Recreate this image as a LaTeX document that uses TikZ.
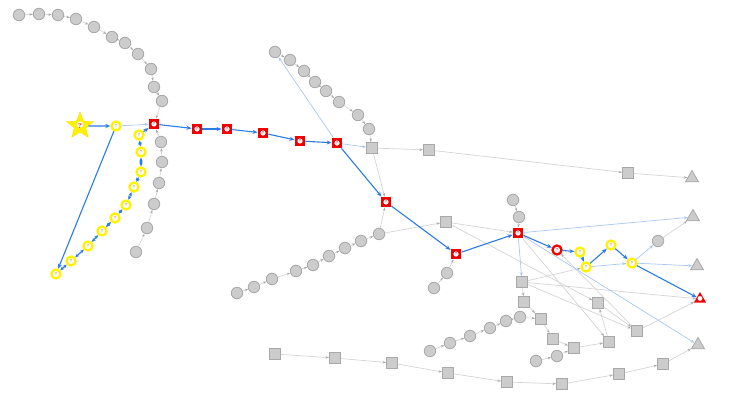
\documentclass[tikz,border=0pt]{standalone}
\usetikzlibrary{arrows.meta,shapes.geometric}
\definecolor{bl}{HTML}{2A7BE4}
\definecolor{lb}{HTML}{A8C8F2}
\definecolor{ge}{HTML}{D4D4D4}
\definecolor{nf}{HTML}{CCCCCC}
\definecolor{nd}{HTML}{A8A8A8}
\definecolor{yl}{HTML}{FFF200}
\definecolor{rd}{HTML}{F20000}
\newcommand\qfont{\fontsize{4}{4}\selectfont\bfseries}
\tikzset{
  gc/.style={circle,fill=nf,draw=nd,line width=0.8pt,minimum size=11.5pt,inner sep=0pt},
  gs/.style={rectangle,fill=nf,draw=nd,line width=0.8pt,minimum size=11pt,inner sep=0pt},
  gt/.style={regular polygon,regular polygon sides=3,fill=nf,draw=nd,line width=0.8pt,minimum size=15pt,inner sep=0pt},
  rs/.style={rectangle,fill=rd,minimum size=10.5pt,inner sep=0pt,text=rd,font=\qfont,
    path picture={\fill[white] (path picture bounding box.center) circle (2.6pt);}},
  yc/.style={circle,draw=yl,line width=2.3pt,fill=white,minimum size=9pt,inner sep=0pt,text=red!70,font=\qfont},
  rc/.style={circle,draw=rd,line width=2.3pt,fill=white,minimum size=9pt,inner sep=0pt,text=rd,font=\qfont},
  st/.style={star,star points=5,star point ratio=2.3,fill=yl,draw=yl!85!orange,line width=0.4pt,minimum size=28pt,inner sep=0pt,text=red,font=\bfseries\fontsize{7}{7}\selectfont,
    path picture={\fill[white] (path picture bounding box.center) circle (3.2pt);}},
  rt/.style={regular polygon,regular polygon sides=3,fill=rd,minimum size=14pt,inner sep=0pt,text=rd,font=\qfont,
    path picture={\fill[white] ([yshift=-1.2pt]path picture bounding box.center) circle (2.4pt);}},
  be/.style={draw=bl,line width=1.1pt,-{Stealth[length=5pt,width=4pt]}},
  bbe/.style={draw=bl,line width=1.1pt,{Stealth[length=4pt,width=3.5pt]}-{Stealth[length=4pt,width=3.5pt]}},
  lbe/.style={draw=lb,line width=0.7pt,-{Stealth[length=4pt,width=3pt]}},
  gre/.style={draw=ge,line width=0.7pt,-{Stealth[length=3.5pt,width=2.5pt,color=nd]}}
}
\begin{document}
\begin{tikzpicture}[x=1pt,y=-1pt]
\useasboundingbox (0,0) rectangle (730,409);
% top arc
\node[gc] (t1) at (19,15) {};
\node[gc] (t2) at (39,14) {};
\node[gc] (t3) at (58,15) {};
\node[gc] (t4) at (76,19) {};
\node[gc] (t5) at (94,27) {};
\node[gc] (t6) at (112,37) {};
\node[gc] (t7) at (125,43) {};
\node[gc] (t8) at (138,54) {};
\node[gc] (t9) at (151,69) {};
\node[gc] (t10) at (154,87) {};
\node[gc] (t11) at (162,101) {};
% red path
\node[rs] (r1) at (154,124) {?};
\node[rs] (r2) at (197,129) {?};
\node[rs] (r3) at (227,129) {?};
\node[rs] (r4) at (263,133) {?};
\node[rs] (r5) at (300,141) {?};
\node[rs] (r6) at (337,143) {?};
\node[rs] (r7) at (386,202) {?};
\node[rs] (r8) at (456,254) {?};
\node[rs] (r9) at (518,233) {?};
\node[rc] (rcn) at (557,250) {?};
\node[yc] (ya) at (580,252) {?};
\node[yc] (yb) at (586,267) {?};
\node[yc] (ycc) at (611,245) {?};
\node[yc] (yd) at (632,263) {?};
\node[rt] (rtri) at (700,299) {};
% star and yellow chain
\node[st] (s) at (80,126) {?};
\node[yc] (y0) at (116,126) {?};
\node[yc] (c1) at (56,274) {?};
\node[yc] (c2) at (71,261) {?};
\node[yc] (c3) at (88,246) {?};
\node[yc] (c4) at (102,231) {?};
\node[yc] (c5) at (115,218) {?};
\node[yc] (c6) at (126,205) {?};
\node[yc] (c7) at (134,187) {?};
\node[yc] (c8) at (141,172) {?};
\node[yc] (c9) at (141,152) {?};
\node[yc] (c10) at (139,135) {?};
% grey chain below r1
\node[gc] (b1) at (161,142) {};
\node[gc] (b2) at (162,162) {};
\node[gc] (b3) at (159,183) {};
\node[gc] (b4) at (154,204) {};
\node[gc] (b5) at (147,228) {};
\node[gc] (b6) at (136,252) {};
% second chain
\node[gc] (u1) at (275,52) {};
\node[gc] (u2) at (290,60) {};
\node[gc] (u3) at (304,71) {};
\node[gc] (u4) at (315,82) {};
\node[gc] (u5) at (326,91) {};
\node[gc] (u6) at (339,102) {};
\node[gc] (u7) at (358,115) {};
\node[gc] (u8) at (369,129) {};
\node[gs] (q1) at (372,148) {};
\node[gs] (q2) at (429,150) {};
\node[gs] (q3) at (628,173) {};
\node[gt] (tr1) at (692,178) {};
% third chain
\node[gc] (w1) at (237,293) {};
\node[gc] (w2) at (254,287) {};
\node[gc] (w3) at (272,279) {};
\node[gc] (w4) at (296,271) {};
\node[gc] (w5) at (313,265) {};
\node[gc] (w6) at (329,256) {};
\node[gc] (w7) at (345,248) {};
\node[gc] (w8) at (361,241) {};
\node[gc] (w9) at (379,234) {};
\node[gs] (q4) at (446,222) {};
% small chains
\node[gc] (p1) at (447,273) {};
\node[gc] (p2) at (434,288) {};
\node[gc] (o1) at (513,200) {};
\node[gc] (o2) at (519,217) {};
\node[gc] (gk) at (658,241) {};
\node[gt] (tr2) at (693,217) {};
\node[gt] (tr3) at (697,266) {};
\node[gt] (tr4) at (698,345) {};
% lower squares
\node[gs] (q5) at (522,282) {};
\node[gs] (q6) at (524,302) {};
\node[gs] (q7) at (541,319) {};
\node[gs] (q8) at (553,339) {};
\node[gs] (q9) at (574,348) {};
\node[gs] (q10) at (609,342) {};
\node[gs] (q11) at (598,303) {};
\node[gs] (q12) at (637,331) {};
\node[gc] (l1) at (430,351) {};
\node[gc] (l2) at (450,343) {};
\node[gc] (l3) at (470,336) {};
\node[gc] (l4) at (490,328) {};
\node[gc] (l5) at (506,321) {};
\node[gc] (l6) at (520,317) {};
\node[gc] (m1) at (536,361) {};
\node[gc] (m2) at (557,356) {};
\node[gs] (n1) at (275,354) {};
\node[gs] (n2) at (335,358) {};
\node[gs] (n3) at (392,363) {};
\node[gs] (n4) at (448,373) {};
\node[gs] (n5) at (507,382) {};
\node[gs] (n6) at (562,384) {};
\node[gs] (n7) at (619,374) {};
\node[gs] (n8) at (663,364) {};
% grey edges
\foreach \a/\b in {t1/t2,t2/t3,t3/t4,t4/t5,t5/t6,t6/t7,t7/t8,t8/t9,t9/t10,t10/t11,t11/r1,
  b6/b5,b5/b4,b4/b3,b3/b2,b2/b1,b1/r1,
  u1/u2,u2/u3,u3/u4,u4/u5,u5/u6,u6/u7,u7/u8,u8/q1,q1/q2,q2/q3,q3/tr1,q1/r7,
  w1/w2,w2/w3,w3/w4,w4/w5,w5/w6,w6/w7,w7/w8,w8/w9,w9/r7,w9/q4,q4/r9,q4/q11,
  p2/p1,p1/r8,o1/o2,o2/r9,gk/tr2,
  q5/q6,q6/q7,q7/q8,q8/q9,q9/q10,q10/q11,q11/q12,q12/rtri,q5/rtri,q5/q12,q5/yb,r9/q10,q12/rcn,
  l1/l2,l2/l3,l3/l4,l4/l5,l5/l6,l6/q7,m1/m2,m2/q9,
  n1/n2,n2/n3,n3/n4,n4/n5,n5/n6,n6/n7,n7/n8,n8/tr4}
  \draw[gre] (\a) -- (\b);
% light blue edges
\foreach \a/\b in {y0/r1,r6/u1,r6/q1,r9/q5,r9/tr2,r9/tr4,yb/yd,yd/gk,yd/tr3}
  \draw[lbe] (\a) -- (\b);
% blue edges
\foreach \a/\b in {s/y0,y0/c1,c10/r1,r1/r2,r2/r3,r3/r4,r4/r5,r5/r6,r6/r7,r7/r8,r8/r9,r9/rcn,rcn/ya,ya/yb,yb/ycc,ycc/yd,yd/rtri}
  \draw[be] (\a) -- (\b);
\foreach \a/\b in {c1/c2,c2/c3,c3/c4,c4/c5,c5/c6,c6/c7,c7/c8,c8/c9,c9/c10}
  \draw[bbe] (\a) -- (\b);
\end{tikzpicture}
\end{document}
